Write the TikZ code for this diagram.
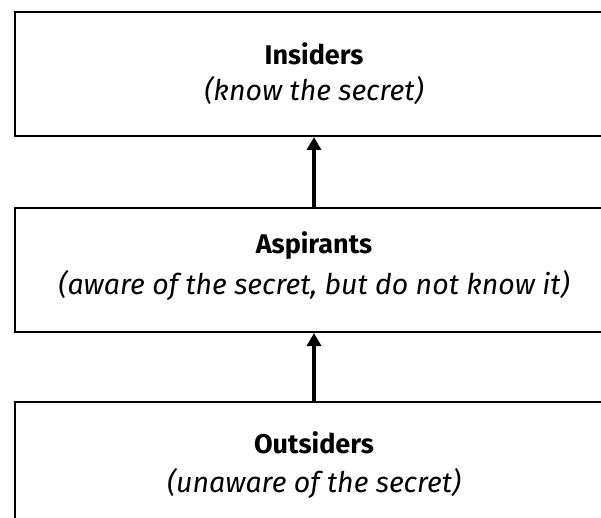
\documentclass[tikz,border=0pt]{standalone}
\usepackage{fontspec}
\setmainfont{Fira Sans}
\usetikzlibrary{arrows.meta}
\begin{document}
\begin{tikzpicture}[x=1pt,y=-1pt,
  layer/.style={draw=black, line width=2pt, fill=white, minimum width=598pt, minimum height=124pt, inner sep=0pt},
  title/.style={font=\fontsize{27}{30}\selectfont\bfseries},
  sub/.style={font=\fontsize{28.5}{32}\selectfont\itshape},
  uparrow/.style={-{Triangle[length=13pt,width=14pt]}, line width=4pt}]
\useasboundingbox (0,0) rectangle (601,518);
\clip (0,0) rectangle (601,518);
\node[layer] (ins) at (314,74) {};
\node[layer] (asp) at (314,270) {};
\node[layer] (out) at (314,464) {};
\node[title] (insT) at (314,54) {Insiders};
\node[sub] (insS) at (314,91) {(know the secret)};
\node[title] (aspT) at (314,246) {Aspirants};
\node[sub] (aspS) at (314,285) {(aware of the secret, but do not know it)};
\node[title] (outT) at (314,443) {Outsiders};
\node[sub] (outS) at (314,483) {(unaware of the secret)};
\draw[uparrow] (asp.north) -- (ins.south);
\draw[uparrow] (out.north) -- (asp.south);
\end{tikzpicture}
\end{document}
